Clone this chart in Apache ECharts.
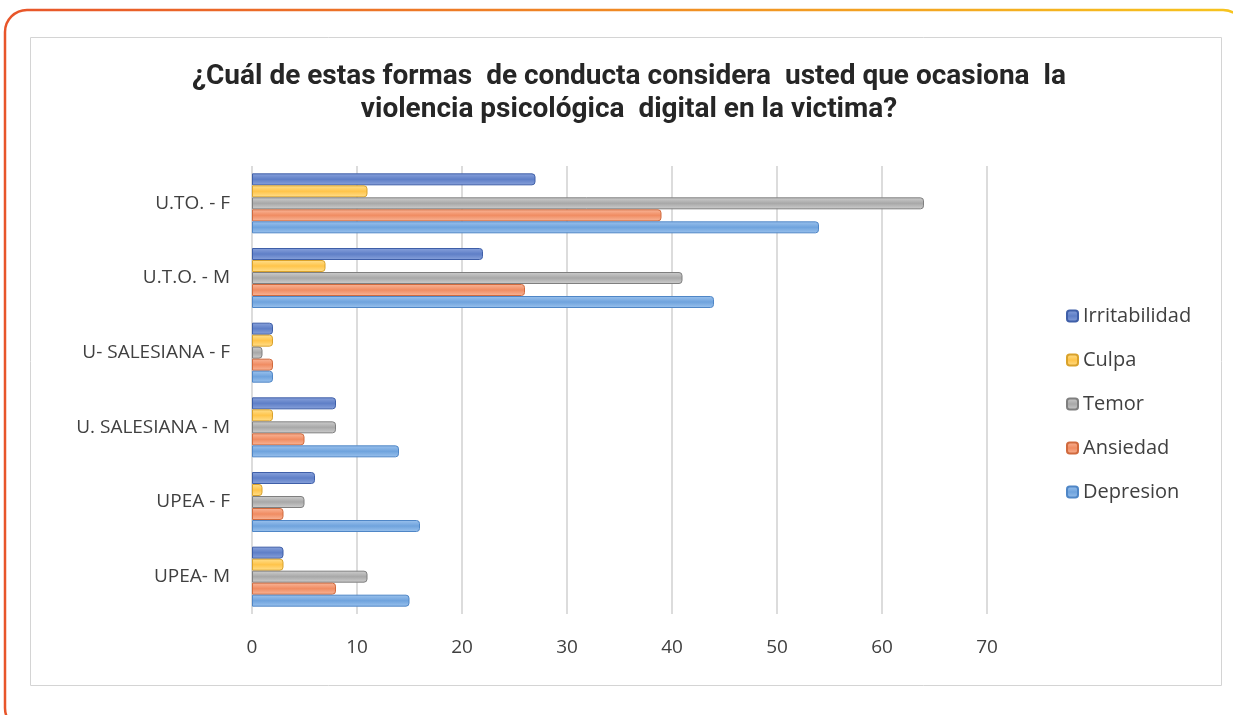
<!DOCTYPE html>
<html><head><meta charset="utf-8">
<script src="https://cdn.jsdelivr.net/npm/echarts@6/dist/echarts.min.js"></script>
<style>html,body{margin:0;padding:0;background:#fff}#c{width:1233px;height:715px}</style>
</head><body><div id="c"></div>
<script>
var categories = ['UPEA- M','UPEA - F','U. SALESIANA - M','U- SALESIANA - F','U.T.O. - M','U.TO. - F'];
var depresion = [15,16,14,2,44,54];
var ansiedad = [8,3,5,2,26,39];
var temor = [11,5,8,1,41,64];
var culpa = [3,1,2,2,7,11];
var irritabilidad = [3,6,8,2,22,27];
var xTicks = [0,10,20,30,40,50,60,70];

function grad(light, dark){
  return new echarts.graphic.LinearGradient(0,0,0,1,[{offset:0,color:light},{offset:0.5,color:dark},{offset:1,color:light}]);
}
var chart = echarts.init(document.getElementById('c'));
function mk(name, data, light, dark, border){
  return {name:name,type:'bar',data:data,barWidth:12,barGap:'0%',
    itemStyle:{color:grad(light,dark),borderColor:border,borderWidth:1,borderRadius:[0,3,3,0]}};
}
chart.setOption({
  animation:false,
  graphic:[
    {type:'rect',shape:{x:5,y:10,width:1240,height:720,r:22},
     style:{fill:'none',lineWidth:2.5,stroke:new echarts.graphic.LinearGradient(0,0,1,0,[{offset:0,color:'#e8552a'},{offset:0.5,color:'#f08a24'},{offset:1,color:'#f7c51e'}])}},
    {type:'rect',shape:{x:30.5,y:37.5,width:1191,height:648},style:{fill:'none',stroke:'#d4d4d4',lineWidth:1}}
  ],
  title:{text:'¿Cuál de estas formas  de conducta considera  usted que ocasiona  la\nviolencia psicológica  digital en la victima?',
    left:624,top:55,textAlign:'center',
    textStyle:{fontFamily:'Roboto',fontWeight:'bold',fontSize:28,color:'#262626',lineHeight:33}},
  legend:{orient:'vertical',left:1061,top:301,itemWidth:11,itemHeight:11,itemGap:24,
    data:['Irritabilidad','Culpa','Temor','Ansiedad','Depresion'],
    textStyle:{fontFamily:'Open Sans',fontSize:20,color:'#404040'}},
  grid:{left:252,right:1233-987,top:166,bottom:101},
  xAxis:{type:'value',min:0,max:70,interval:10,
    axisLine:{show:false},axisTick:{show:false},
    axisLabel:{fontFamily:'Open Sans',fontSize:19,color:'#404040',margin:24,
      formatter:function(v){return xTicks.indexOf(v)>=0?String(v):'';}},
    splitLine:{lineStyle:{color:'#d0d0d0',width:1.5}}},
  yAxis:{type:'category',data:categories,
    axisLine:{show:false},axisTick:{show:false},
    axisLabel:{fontFamily:'Open Sans',fontSize:19,color:'#404040',margin:22}},
  series:[
    mk('Irritabilidad',irritabilidad,'#8aa3dc','#5f7fc7','#3f5fa8'),
    mk('Culpa',culpa,'#ffe08f','#ffc44a','#d9a22c'),
    mk('Temor',temor,'#cfcfcf','#a8a8a8','#7f7f7f'),
    mk('Ansiedad',ansiedad,'#f9b79a','#f08c62','#d06a3e'),
    mk('Depresion',depresion,'#9cc3ee','#6fa3dd','#4f86c6')
  ]
});
</script></body></html>
